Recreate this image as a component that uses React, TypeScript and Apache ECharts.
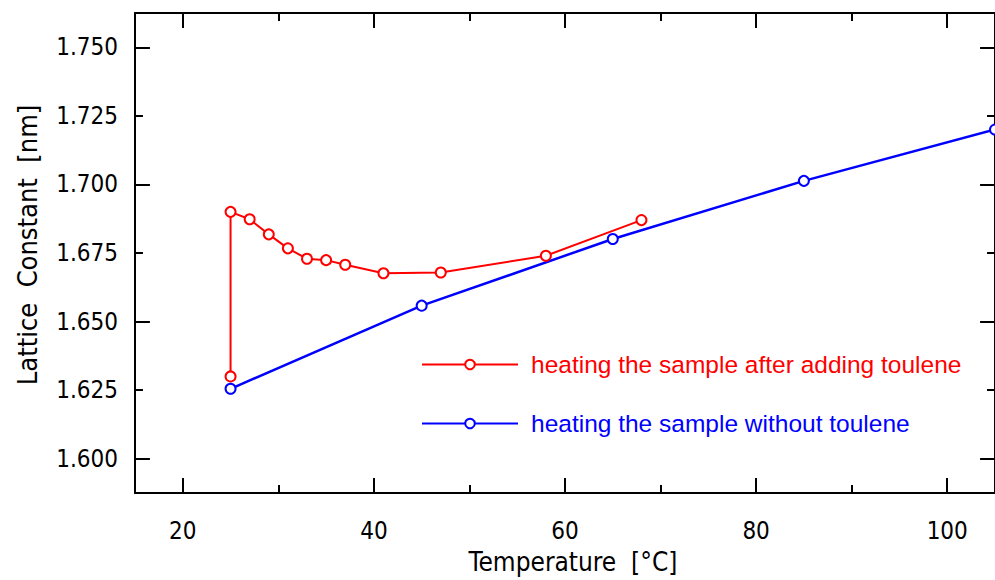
import React, { useEffect, useRef } from 'react';
import * as echarts from 'echarts';

const redX = [25, 25, 27, 29, 31, 33, 35, 37, 41, 47, 58, 68];
const redY = [1.630, 1.690, 1.6873, 1.6818, 1.6767, 1.6729, 1.6724, 1.6707, 1.6676, 1.6679, 1.674, 1.687];
const blueX = [25, 45, 65, 85, 105];
const blueY = [1.6255, 1.6558, 1.6801, 1.7013, 1.720];
const xLabels = [20, 40, 60, 80, 100];
const xMajorTicks = [20, 40, 60, 80, 100];
const xMinorTicks = [30, 50, 70, 90];
const yLabels = [1.6, 1.625, 1.65, 1.675, 1.7, 1.725, 1.75];
const yMajorTicks = [1.6, 1.65, 1.7, 1.75];
const yMinorTicks = [1.625, 1.675, 1.725];
const redName = 'heating the sample after adding toulene';
const blueName = 'heating the sample without toulene';
const xTitle = 'Temperature  [°C]';
const yTitle = 'Lattice  Constant  [nm]';

const AXIS_FONT = "'Liberation Sans Narrow', 'DejaVu Sans Condensed', 'Liberation Sans', sans-serif";
const LEG_FONT = "'Liberation Sans', Arial, sans-serif";

export default function App() {
  const ref = useRef<HTMLDivElement>(null);
  useEffect(() => {
    if (!ref.current) return;
    const chart = echarts.init(ref.current, undefined, { renderer: 'svg' });
    const XMIN = 15, XMAX = 105, YMIN = 1.5875, YMAX = 1.7625;
    const GL = 135, GR = -4, GT = 13, GB = 87;
    const plotW = 995 - GL - GR, plotH = 580 - GT - GB;
    const xPerPx = (XMAX - XMIN) / plotW, yPerPx = (YMAX - YMIN) / plotH;
    const MAJ = 15, MIN = 8;
    // tick segments (inward, all four sides) in data coordinates
    const tickSegs: any[] = [];
    const addX = (v: number, len: number) => {
      tickSegs.push([{ coord: [v, YMIN] }, { coord: [v, YMIN + len * yPerPx] }]);
      tickSegs.push([{ coord: [v, YMAX] }, { coord: [v, YMAX - len * yPerPx] }]);
    };
    const addY = (v: number, len: number) => {
      tickSegs.push([{ coord: [XMIN, v] }, { coord: [XMIN + len * xPerPx, v] }]);
      tickSegs.push([{ coord: [XMAX, v] }, { coord: [XMAX - len * xPerPx, v] }]);
    };
    xMajorTicks.forEach((v) => addX(v, MAJ));
    xMinorTicks.forEach((v) => addX(v, MIN));
    yMajorTicks.forEach((v) => addY(v, MAJ));
    yMinorTicks.forEach((v) => addY(v, MIN));

    const frame = { show: true, lineStyle: { color: '#000', width: 2 } };
    const xBase = { type: 'value', min: XMIN, max: XMAX, axisLine: frame, axisTick: { show: false }, splitLine: { show: false } };
    const yBase = { type: 'value', min: YMIN, max: YMAX, axisLine: frame, axisTick: { show: false }, splitLine: { show: false } };
    chart.setOption({
      animation: false,
      grid: { left: GL, right: GR, top: GT, bottom: GB, containLabel: false },
      xAxis: [
        { ...xBase, position: 'bottom', axisLabel: { show: true, customValues: xLabels, margin: 26, color: '#000', fontSize: 24, fontFamily: AXIS_FONT } },
        { ...xBase, position: 'top', axisLabel: { show: false } },
      ],
      yAxis: [
        { ...yBase, position: 'left', axisLabel: { show: true, customValues: yLabels, margin: 17, color: '#000', fontSize: 24, fontFamily: AXIS_FONT, formatter: (v: number) => v.toFixed(3) } },
        { ...yBase, position: 'right', axisLabel: { show: false } },
      ],
      legend: {
        orient: 'vertical', left: 416, top: 347, itemWidth: 96, itemHeight: 12, itemGap: 34,
        data: [
          { name: redName, textStyle: { color: '#ff0000' } },
          { name: blueName, textStyle: { color: '#0000ff' } },
        ],
        textStyle: { fontSize: 24.5, fontFamily: LEG_FONT, padding: [0, 0, 0, 8] },
      },
      graphic: [
        { type: 'text', x: 573, y: 562, style: { text: xTitle, align: 'center', verticalAlign: 'middle', fill: '#000', font: `26px ${AXIS_FONT}` } },
        { type: 'text', x: 27, y: 245, rotation: Math.PI / 2, style: { text: yTitle, align: 'center', verticalAlign: 'middle', fill: '#000', font: `27px ${AXIS_FONT}` } },
      ],
      series: [
        {
          name: redName, type: 'line', xAxisIndex: 0, yAxisIndex: 0,
          data: redX.map((x, i) => [x, redY[i]]),
          symbol: 'emptyCircle', symbolSize: 10,
          lineStyle: { color: '#ff0000', width: 2 },
          itemStyle: { color: '#ff0000', borderWidth: 2 },
        },
        {
          name: blueName, type: 'line', xAxisIndex: 0, yAxisIndex: 0,
          data: blueX.map((x, i) => [x, blueY[i]]),
          symbol: 'emptyCircle', symbolSize: 10,
          lineStyle: { color: '#0000ff', width: 2.5 },
          itemStyle: { color: '#0000ff', borderWidth: 2 },
          markLine: {
            silent: true, animation: false, symbol: ['none', 'none'],
            label: { show: false },
            emphasis: { disabled: true },
            lineStyle: { color: '#000', width: 2, type: 'solid' },
            data: tickSegs,
          },
        },
      ],
    });
    return () => chart.dispose();
  }, []);
  return <div ref={ref} style={{ position: 'fixed', left: 0, top: 0, width: 995, height: 580, background: '#fff' }} />;
}
